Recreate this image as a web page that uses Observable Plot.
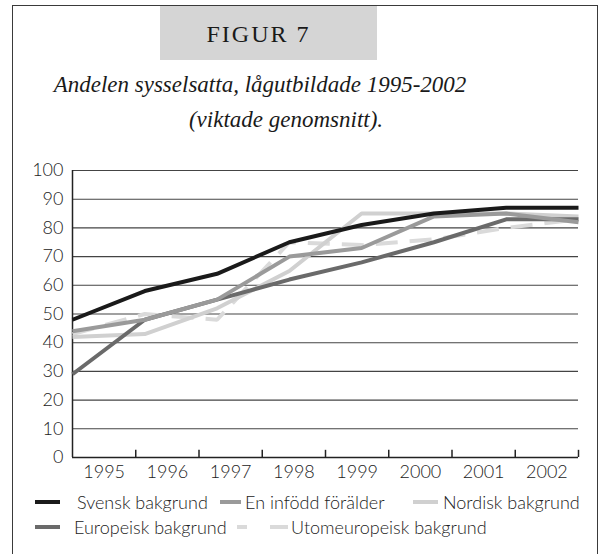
<!DOCTYPE html>
<html>
<head>
<meta charset="utf-8">
<script src="https://cdn.jsdelivr.net/npm/d3@7"></script>
<script src="https://cdn.jsdelivr.net/npm/@observablehq/plot@0.6"></script>
<style>
  html, body { margin: 0; padding: 0; background: #fff; width: 600px; height: 554px; overflow: hidden; }
  #wrap { position: relative; width: 600px; height: 554px; }
  #frame { position: absolute; left: 12px; top: 5px; width: 584px; height: 600px; border: 1.5px solid #3a3a3a; }
  #figbox { position: absolute; left: 160px; top: 6px; width: 217px; height: 54px; background: #d5d5d5; }
  .serif { position: absolute; font-family: "Liberation Serif", "DejaVu Serif", serif; color: #1a1a1a; white-space: nowrap; }
  #fig { left: 150px; width: 217px; top: 20px; text-align: center; font-size: 24px; letter-spacing: 2px; line-height: 28px; }
  .title { font-style: italic; font-size: 23px; line-height: 28px; transform: translateX(-50%); }
  #chart { position: absolute; left: 0; top: 150px; }
  #chart svg text { font-size: 18px; }
  .leg { position: absolute; font-family: "Lato", "Open Sans", sans-serif; font-weight: 300; font-size: 18px; color: #222; white-space: nowrap; line-height: 20px; }
  .sw { position: absolute; }
</style>
</head>
<body>
<div id="wrap">
  <div id="frame"></div>
  <div id="figbox"></div>
  <div id="fig" class="serif">FIGUR 7</div>
  <div id="t1" class="serif title" style="left:260px; top:71px;">Andelen sysselsatta, lågutbildade 1995-2002</div>
  <div id="t2" class="serif title" style="left:286px; top:106px;">(viktade genomsnitt).</div>
  <div id="chart"></div>
  <div id="legend"></div>
</div>
<script>
// Data
const years = ["1995", "1996", "1997", "1998", "1999", "2000", "2001", "2002"];
const svensk    = [48, 58, 64, 75, 81, 85, 87, 87];
const infodd    = [44, 48, 55, 70, 73, 84, 85, 82];
const nordisk   = [42, 43, 52, 65, 85, 85, 85, 84];
const europeisk = [29, 48, 55, 62, 68, 75, 83, 83];
const utom      = [43, 50, 48, 75, 74, 76, 80, 83];
const seriesNames = ["Svensk bakgrund", "En infödd förälder", "Nordisk bakgrund", "Europeisk bakgrund", "Utomeuropeisk bakgrund"];
const yTicks = [0, 10, 20, 30, 40, 50, 60, 70, 80, 90, 100];

const series = [
  {name: seriesNames[4], values: utom, color: "#dadada", width: 4, dash: "22,12"},
  {name: seriesNames[2], values: nordisk, color: "#d0d0d0", width: 4, dash: null},
  {name: seriesNames[3], values: europeisk, color: "#6a6a6a", width: 4, dash: null},
  {name: seriesNames[1], values: infodd, color: "#9a9a9a", width: 4, dash: null},
  {name: seriesNames[0], values: svensk, color: "#1a1a1a", width: 4, dash: null}
];

const n = years.length;
const xmax = n - 1;
const band = xmax / n;
const labelPos = years.map((d, i) => (i + 0.5) * band);
const bounds = d3.range(1, n + 1).map(i => i * band);

const plot = Plot.plot({
  width: 600,
  height: 340,
  marginLeft: 72,
  marginRight: 22,
  marginTop: 20,
  marginBottom: 33,
  style: {background: "transparent", fontFamily: "Lato, 'Open Sans', sans-serif", fontWeight: 300, fontSize: "18px", color: "#222"},
  x: {domain: [0, xmax], axis: null},
  y: {domain: [0, 100], axis: null},
  marks: [
    Plot.ruleY(yTicks.slice(1), {stroke: "#444", strokeWidth: 1.1}),
    Plot.ruleY([0], {stroke: "#222", strokeWidth: 1.5}),
    Plot.ruleX([0], {y1: 0, y2: 100, stroke: "#222", strokeWidth: 1.5}),
    Plot.ruleX(bounds, {y1: 0, y2: 2.5, stroke: "#222", strokeWidth: 1.5}),
    Plot.axisY({ticks: yTicks, tickSize: 0, tickPadding: 9, fontSize: 18, tickFormat: d => String(d)}),
    Plot.axisX({ticks: labelPos, tickSize: 0, tickPadding: 8, fontSize: 18, tickFormat: (d, i) => years[i]}),
    ...series.map(s => Plot.line(s.values, {
      x: (d, i) => i, y: d => d,
      stroke: s.color, strokeWidth: s.width,
      strokeDasharray: s.dash || undefined,
      strokeLinejoin: "miter", strokeLinecap: "butt"
    }))
  ]
});
document.getElementById("chart").appendChild(plot);

// Legend
const byName = Object.fromEntries(series.map(s => [s.name, s]));
const legendItems = [
  {name: seriesNames[0], sx1: 35, sx2: 60, tx: 77, y: 502},
  {name: seriesNames[1], sx1: 220, sx2: 241, tx: 245, y: 502},
  {name: seriesNames[2], sx1: 413, sx2: 438, tx: 443, y: 502},
  {name: seriesNames[3], sx1: 35, sx2: 60, tx: 74, y: 527},
  {name: seriesNames[4], sx1: 237, sx2: 288, tx: 291, y: 527}
];
const legend = document.getElementById("legend");
for (const it of legendItems) {
  const s = byName[it.name];
  const w = it.sx2 - it.sx1;
  const svg = d3.create("svg").attr("class", "sw")
    .attr("width", w).attr("height", 8)
    .style("left", it.sx1 + "px").style("top", (it.y - 4) + "px");
  svg.append("line").attr("x1", 0).attr("x2", w).attr("y1", 4).attr("y2", 4)
    .attr("stroke", s.color).attr("stroke-width", 4)
    .attr("stroke-dasharray", s.dash ? "10,23,18" : null);
  legend.appendChild(svg.node());
  const t = document.createElement("div");
  t.className = "leg";
  t.textContent = it.name;
  t.style.left = it.tx + "px";
  t.style.top = (it.y - 10) + "px";
  legend.appendChild(t);
}
</script>
</body>
</html>
